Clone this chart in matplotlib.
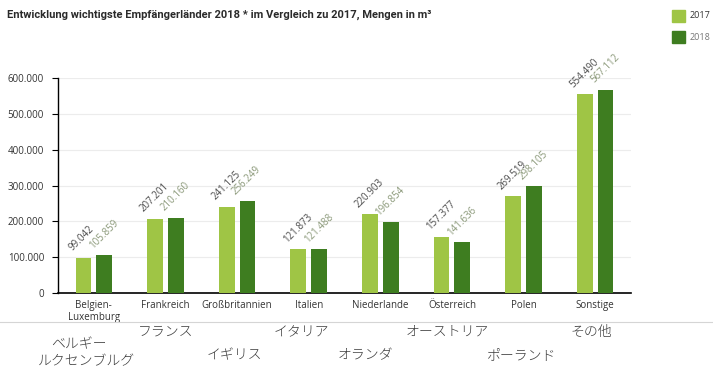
import matplotlib
matplotlib.use("Agg")
import matplotlib.pyplot as plt
import numpy as np

# Empfängerländer und Mengen in m³
laender = ["Belgien-\nLuxemburg", "Frankreich", "Großbritannien", "Italien",
           "Niederlande", "Österreich", "Polen", "Sonstige"]
laender_jp = ["ベルギー", "ルクセンブルグ", "フランス", "イギリス", "イタリア",
              "オランダ", "オーストリア", "ポーランド", "その他"]
mengen_2017 = [99042, 207201, 241125, 121873, 220903, 157377, 269519, 554490]
mengen_2018 = [105859, 210160, 256249, 121488, 196854, 141636, 298105, 567112]
y_ticks = [0, 100000, 200000, 300000, 400000, 500000, 600000]
y_labels = ["0", "100.000", "200.000", "300.000", "400.000", "500.000", "600.000"]

hell = "#9fc545"
dunkel = "#3e7d20"
txt_font = ["Open Sans", "DejaVu Sans"]

fig = plt.figure(figsize=(7.13, 3.74), dpi=100)
ax = fig.add_axes([58/713, 1-293/374, 573/713, 215/374])

x = np.arange(len(laender))
b = 0.22
off = 0.145
bars17 = ax.bar(x - off, mengen_2017, b, color=hell, zorder=3)
bars18 = ax.bar(x + off, mengen_2018, b, color=dunkel, zorder=3)

def fmt(v):
    return f"{v:,}".replace(",", ".")

# Werte schräg über den Balken
for bars, vals, col in [(bars17, mengen_2017, "#4a4a4a"), (bars18, mengen_2018, "#8a9878")]:
    for r, v in zip(bars, vals):
        ax.annotate(fmt(v), (r.get_x(), v), xytext=(-1, 3), textcoords="offset points",
                    rotation=45, rotation_mode="anchor", ha="left", va="bottom",
                    fontsize=7, color=col, family=txt_font)

ax.set_xlim(-0.5, 7.5)
ax.set_ylim(0, 600000)
ax.set_yticks(y_ticks)
ax.set_yticklabels(y_labels, fontsize=7, color="#333333", family=txt_font)
ax.set_xticks(x)
ax.set_xticklabels(laender, fontsize=7, color="#333333", family=txt_font, linespacing=1.1)
ax.tick_params(axis="x", length=0, pad=5)
ax.tick_params(axis="y", length=4, width=0.8, pad=6)
ax.yaxis.grid(True, color="#ececec", linewidth=0.8, zorder=0)
for s in ["top", "right"]:
    ax.spines[s].set_visible(False)
ax.spines["left"].set_linewidth(1.0)
ax.spines["bottom"].set_linewidth(1.2)

fig.text(7/713, 1-15/374, "Entwicklung wichtigste Empfängerländer 2018 * im Vergleich zu 2017, Mengen in m³",
         fontsize=8.0, fontweight="bold", color="#2a2a2a", va="center",
         family=["Roboto", "DejaVu Sans"])

# Legende rechts oben
for yy, col, lab, tc in [(16, hell, "2017", "#333333"), (37, dunkel, "2018", "#777777")]:
    fig.patches.append(plt.Rectangle((672/713, 1-(yy+6)/374), 13/713, 12/374,
                                     transform=fig.transFigure, color=col))
    fig.text(690/713, 1-yy/374, lab, fontsize=6.5, color=tc, va="center", family=txt_font)

# Trennlinie und japanische Beschriftung
fig.add_artist(plt.Line2D([0, 1], [1-322/374, 1-322/374], color="#d5d5d5", linewidth=0.8,
                          transform=fig.transFigure))
jp_pos = [(79, 344), (86, 361), (166, 332), (234, 355), (301, 332),
          (365, 355), (447, 332), (522, 355), (591, 332)]
for (px, py), t in zip(jp_pos, laender_jp):
    fig.text(px/713, 1-py/374, t, fontsize=10, color="#3a3a3a", ha="center", va="center",
             family=["Noto Sans CJK JP", "DejaVu Sans"], fontweight="light")

fig.savefig("out.png", dpi=100)
